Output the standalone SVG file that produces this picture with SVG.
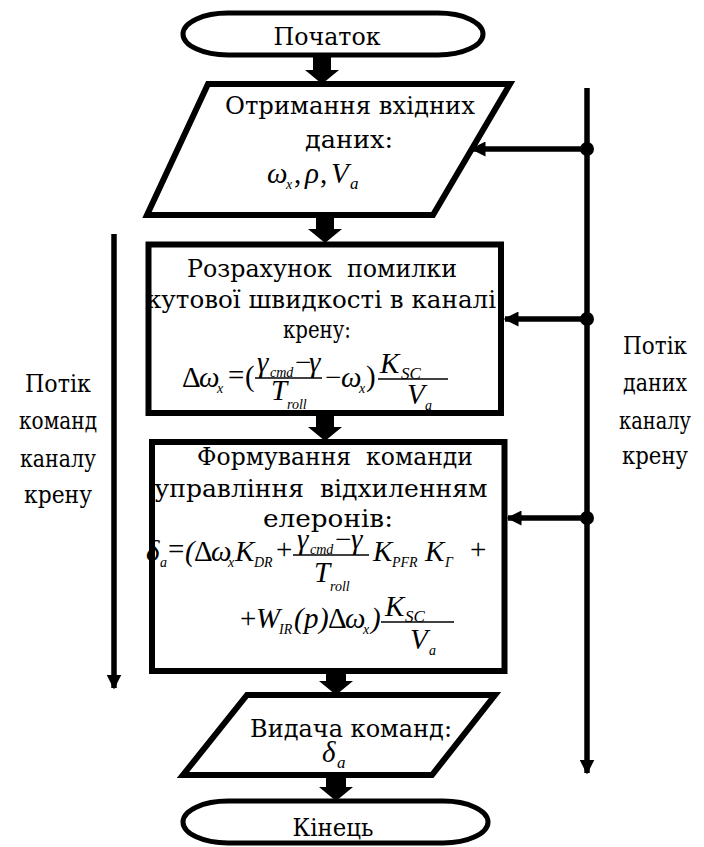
<svg xmlns="http://www.w3.org/2000/svg" width="704" height="847" viewBox="0 0 704 847">
<style>
.t{font-family:"DejaVu Serif","Liberation Serif","Times New Roman",serif;font-size:25px;fill:#000}
.c{text-anchor:middle}
.m{font-family:"Liberation Serif","DejaVu Serif","Times New Roman",serif;font-style:italic;font-size:29px;fill:#000}
.u{font-style:normal}
.s{font-size:17px}
.ss{font-size:14px}
.shape{fill:#fff;stroke:#000;stroke-width:6;stroke-linejoin:miter}
.oval{fill:#fff;stroke:#000;stroke-width:5}
.bar{stroke:#000;stroke-width:1.6}
.flow{fill:#000}
.line{stroke:#000;stroke-width:5.5;fill:none}
</style>
<defs>
<marker id="ah" viewBox="0 0 10 10" refX="9" refY="5" markerWidth="15" markerHeight="15" markerUnits="userSpaceOnUse" orient="auto">
<path d="M0,0 L10,5 L0,10 Z" fill="#000"/>
</marker>
</defs>

<g id="start">
<rect class="oval" x="183" y="13" width="300" height="42" rx="45" ry="21"/>
<text class="t c" x="327" y="45" textLength="107" lengthAdjust="spacingAndGlyphs">Початок</text>
</g>

<g id="input">
<polygon class="shape" points="208,84 510,84 433,215 147,215"/>
<text class="t c" x="350" y="114" textLength="250" lengthAdjust="spacingAndGlyphs">Отримання вхідних</text>
<text class="t c" x="349" y="148" textLength="88" lengthAdjust="spacingAndGlyphs">даних:</text>
<text class="m"><tspan x="267" y="183">ω</tspan><tspan class="ss" x="286" y="189">x</tspan><tspan class="u" x="294" y="183">,</tspan><tspan x="305" y="183">ρ</tspan><tspan class="u" x="320" y="183">,</tspan><tspan x="331" y="183">V</tspan><tspan class="s" x="350" y="189">a</tspan></text>
</g>

<g id="calc_error">
<rect class="shape" x="148.5" y="244.5" width="352.5" height="168.5"/>
<text class="t c" x="322" y="277" textLength="270" lengthAdjust="spacingAndGlyphs" xml:space="preserve">Розрахунок  помилки</text>
<text class="t c" x="321" y="308" textLength="350" lengthAdjust="spacingAndGlyphs">кутової швидкості в каналі</text>
<text class="t c" x="317" y="338" textLength="68" lengthAdjust="spacingAndGlyphs">крену:</text>
<text class="m"><tspan class="u" x="182" y="387">Δ</tspan><tspan x="199" y="387">ω</tspan><tspan class="ss" x="217" y="393">x</tspan><tspan class="u" x="228" y="385">=</tspan><tspan class="u" x="245" y="386">(</tspan><tspan x="257" y="372">γ</tspan><tspan class="ss" x="270" y="377">cmd</tspan><tspan class="u" x="295" y="372">−</tspan><tspan x="309" y="372">γ</tspan><tspan x="271" y="400">T</tspan><tspan class="ss" x="287" y="409">roll</tspan><tspan class="u" x="325" y="387">−</tspan><tspan x="341" y="387">ω</tspan><tspan class="ss" x="359" y="393">x</tspan><tspan class="u" x="366" y="386">)</tspan><tspan x="380" y="373">K</tspan><tspan class="s" x="401" y="379">SC</tspan><tspan x="407" y="404">V</tspan><tspan class="ss" x="425" y="410">a</tspan></text>
<line class="bar" x1="255" y1="378" x2="322" y2="378"/>
<line class="bar" x1="378" y1="379" x2="448" y2="379"/>
</g>

<g id="form_command">
<rect class="shape" x="152" y="442" width="352.5" height="229"/>
<text class="t c" x="335" y="465" textLength="276" lengthAdjust="spacingAndGlyphs" xml:space="preserve">Формування  команди</text>
<text class="t c" x="321" y="497" textLength="333" lengthAdjust="spacingAndGlyphs" xml:space="preserve">управління  відхиленням</text>
<text class="t c" x="328" y="527" textLength="130" lengthAdjust="spacingAndGlyphs">елеронів:</text>
<text class="m"><tspan x="146" y="561">δ</tspan><tspan class="ss" x="160" y="567">a</tspan><tspan class="u" x="168" y="559">=</tspan><tspan x="185" y="561">(</tspan><tspan class="u" x="194" y="561">Δ</tspan><tspan x="211" y="561">ω</tspan><tspan class="ss" x="228" y="567">x</tspan><tspan x="235" y="561">K</tspan><tspan class="ss" x="254" y="567">DR</tspan><tspan class="u" x="276" y="559">+</tspan><tspan x="297" y="549">γ</tspan><tspan class="ss" x="310" y="554">cmd</tspan><tspan class="u" x="335" y="549">−</tspan><tspan x="351" y="549">γ</tspan><tspan x="314" y="582">T</tspan><tspan class="ss" x="330" y="591">roll</tspan><tspan x="373" y="561">K</tspan><tspan class="ss" x="392" y="567">PFR</tspan><tspan x="425" y="561">K</tspan><tspan class="ss" x="445" y="567">Γ</tspan><tspan class="u" x="470" y="559">+</tspan></text>
<line class="bar" x1="293" y1="555" x2="369" y2="555"/>
<text class="m"><tspan class="u" x="240" y="628">+</tspan><tspan x="256" y="628">W</tspan><tspan class="ss" x="279" y="634">IR</tspan><tspan x="294" y="628">(</tspan><tspan x="304" y="628">p</tspan><tspan x="319" y="628">)</tspan><tspan class="u" x="328" y="628">Δ</tspan><tspan x="345" y="628">ω</tspan><tspan class="ss" x="363" y="634">x</tspan><tspan x="371" y="628">)</tspan><tspan x="385" y="616">K</tspan><tspan class="s" x="405" y="622">SC</tspan><tspan x="410" y="649">V</tspan><tspan class="ss" x="429" y="655">a</tspan></text>
<line class="bar" x1="381" y1="622" x2="454" y2="622"/>
</g>

<g id="output">
<polygon class="shape" points="247,695 495,695 432,775 183,775"/>
<text class="t c" x="351" y="737" textLength="202" lengthAdjust="spacingAndGlyphs">Видача команд:</text>
<text class="m"><tspan x="322" y="762">δ</tspan><tspan class="s" x="337" y="768">a</tspan></text>
</g>

<g id="end">
<rect class="oval" x="183" y="801" width="305" height="42" rx="45" ry="21"/>
<text class="t c" x="333" y="836" textLength="81" lengthAdjust="spacingAndGlyphs">Кінець</text>
</g>

<g id="label_commands">
<text class="t c" x="58" y="392" textLength="66" lengthAdjust="spacingAndGlyphs">Потік</text>
<text class="t c" x="58" y="429" textLength="78" lengthAdjust="spacingAndGlyphs">команд</text>
<text class="t c" x="58" y="467" textLength="76" lengthAdjust="spacingAndGlyphs">каналу</text>
<text class="t c" x="58" y="503" textLength="68" lengthAdjust="spacingAndGlyphs">крену</text>
</g>

<g id="label_data">
<text class="t c" x="655" y="354" textLength="64" lengthAdjust="spacingAndGlyphs">Потік</text>
<text class="t c" x="655" y="391" textLength="64" lengthAdjust="spacingAndGlyphs">даних</text>
<text class="t c" x="655" y="429" textLength="72" lengthAdjust="spacingAndGlyphs">каналу</text>
<text class="t c" x="655" y="464" textLength="66" lengthAdjust="spacingAndGlyphs">крену</text>
</g>

<g id="connectors">
<polygon class="flow" points="313,55 331,55 331,70 339,70 322,84 305,70 313,70"/>
<polygon class="flow" points="316,215 334,215 334,229 342,229 325,243 308,229 316,229"/>
<polygon class="flow" points="316,413 334,413 334,427 342,427 325,441 308,427 316,427"/>
<polygon class="flow" points="326,671 346,671 346,681 353,681 336,695 319,681 326,681"/>
<polygon class="flow" points="326,775 346,775 346,787 353,787 336,801 319,787 326,787"/>
<line class="line" x1="587" y1="88" x2="587" y2="773" marker-end="url(#ah)"/>
<line class="line" x1="114" y1="234" x2="114" y2="688" marker-end="url(#ah)"/>
<circle cx="587" cy="149" r="7"/>
<circle cx="587" cy="319" r="7"/>
<circle cx="587" cy="518" r="7"/>
<line class="line" x1="587" y1="149" x2="472" y2="149" stroke-width="6" marker-end="url(#ah)"/>
<line class="line" x1="587" y1="319" x2="505" y2="319" stroke-width="6" marker-end="url(#ah)"/>
<line class="line" x1="587" y1="518" x2="508" y2="518" stroke-width="6" marker-end="url(#ah)"/>
</g>
</svg>
